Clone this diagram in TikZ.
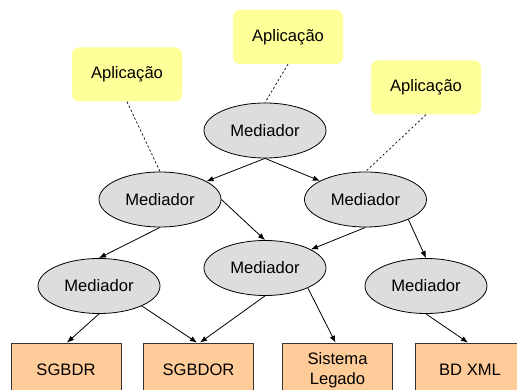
\documentclass[tikz,border=0pt]{standalone}
\usepackage{fontspec}
\setmainfont{Liberation Sans}
\usetikzlibrary{shapes.geometric,arrows.meta}

\definecolor{appyellow}{RGB}{255,255,153}
\definecolor{medgray}{RGB}{221,221,221}
\definecolor{srcpeach}{RGB}{255,204,153}

\tikzset{
  app/.style={rectangle, rounded corners=7pt, fill=appyellow, draw=none,
    minimum width=110pt, minimum height=54pt, inner sep=0pt,
    font=\fontsize{16.6}{20}\selectfont},
  med/.style={ellipse, fill=medgray, draw=black, line width=0.8pt,
    minimum width=122pt, minimum height=55pt, inner sep=0pt,
    font=\fontsize{16.6}{20}\selectfont},
  src/.style={rectangle, fill=srcpeach, draw=black!80, line width=0.8pt,
    minimum width=110pt, minimum height=54pt, inner sep=0pt, align=center,
    font=\fontsize{16.6}{20}\selectfont},
  flow/.style={line width=0.8pt, -{Latex[length=7pt,width=5.5pt]}},
  uses/.style={line width=0.7pt, dash pattern=on 2.2pt off 2.2pt},
}

\begin{document}
\begin{tikzpicture}[x=1pt, y=-1pt]
  \path[use as bounding box, clip] (0,0) rectangle (517,390);

  % applications
  \node[app] (a1) at (127,74.5) {Aplicação};
  \node[app] (a2) at (288,37)   {Aplicação};
  \node[app] (a3) at (426,87.5) {Aplicação};

  % mediators
  \node[med] (m0) at (265,130.5) {Mediador};
  \node[med] (ml) at (160,199.5) {Mediador};
  \node[med] (mr) at (365.5,199.5) {Mediador};
  \node[med] (rl) at (99,286)    {Mediador};
  \node[med] (rc) at (265,268)   {Mediador};
  \node[med] (rr) at (426,286)   {Mediador};

  % data sources
  \node[src] (s1) at (66,370)    {SGBDR};
  \node[src] (s2) at (198.5,370) {SGBDOR};
  \node[src] (s3) at (337.5,370) {Sistema\\Legado};
  \node[src] (s4) at (470,370)   {BD XML};

  % applications to mediators
  \draw[uses] (a1.south) -- (ml.north);
  \draw[uses] (a2.south) -- (m0.north);
  \draw[uses] (a3.south) -- (mr.north);

  % mediator hierarchy
  \draw[flow] (m0.south) -- (ml);
  \draw[flow] (m0.south) -- (mr);
  \draw[flow] (ml.south) -- (rl.north);
  \draw[flow] (ml.east)  -- (rc.north);
  \draw[flow] (mr.south) -- (rc);
  \draw[flow] (mr.-25)   -- (rr.north);

  % mediators to sources
  \draw[flow] (rl.south) -- ([xshift=1pt]s1.north);
  \draw[flow] (rl.-25)   -- ([xshift=-1.5pt]s2.north);
  \draw[flow] (rc.south) -- ([xshift=1.5pt]s2.north);
  \draw[flow] (rc.-25)   -- ([xshift=-2pt]s3.north);
  \draw[flow] (rr.south) -- ([xshift=-2pt]s4.north);
\end{tikzpicture}
\end{document}
